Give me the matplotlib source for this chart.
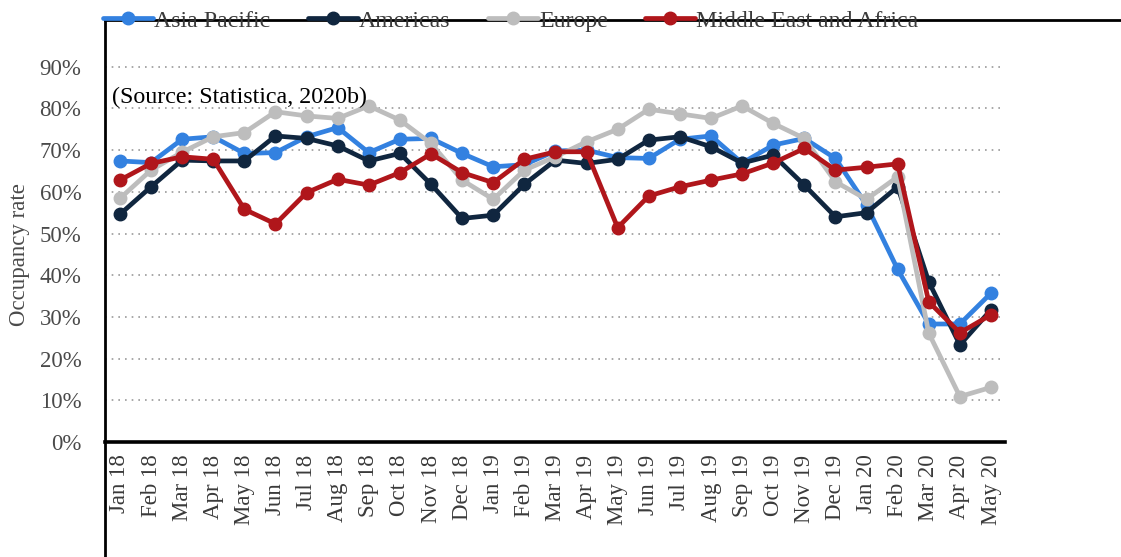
import matplotlib
matplotlib.use("Agg")
import matplotlib.pyplot as plt
from matplotlib.lines import Line2D

plt.rcParams['font.family'] = ['Liberation Serif', 'DejaVu Serif']

# Data (occupancy rate, %)
months = ['Jan 18', 'Feb 18', 'Mar 18', 'Apr 18', 'May 18', 'Jun 18', 'Jul 18',
          'Aug 18', 'Sep 18', 'Oct 18', 'Nov 18', 'Dec 18', 'Jan 19', 'Feb 19',
          'Mar 19', 'Apr 19', 'May 19', 'Jun 19', 'Jul 19', 'Aug 19', 'Sep 19',
          'Oct 19', 'Nov 19', 'Dec 19', 'Jan 20', 'Feb 20', 'Mar 20', 'Apr 20',
          'May 20']

asia_pacific = [67.4, 67.0, 72.6, 73.2, 69.2, 69.4, 73.2, 75.4, 69.4, 72.6,
                72.8, 69.2, 66.0, 66.5, 69.8, 70.0, 68.2, 68.0, 72.6, 73.4,
                66.9, 71.2, 72.8, 68.0, 56.8, 41.4, 28.3, 28.3, 35.7]
americas = [54.6, 61.2, 67.6, 67.4, 67.4, 73.4, 72.8, 71.0, 67.4, 69.2,
            61.8, 53.6, 54.4, 61.8, 67.6, 66.8, 67.8, 72.4, 73.2, 70.8,
            66.9, 68.8, 61.6, 54.0, 55.0, 61.2, 38.4, 23.3, 31.7]
europe = [58.4, 65.2, 69.5, 73.2, 74.2, 79.2, 78.2, 77.6, 80.6, 77.2,
          71.6, 62.8, 58.2, 65.2, 68.4, 72.0, 75.0, 79.8, 78.7, 77.6,
          80.6, 76.4, 72.8, 62.4, 58.2, 63.6, 26.1, 10.9, 13.1]
middle_east_africa = [62.8, 66.8, 68.4, 67.8, 55.8, 52.3, 59.8, 63.0, 61.6, 64.6,
                      69.1, 64.6, 62.2, 67.8, 69.6, 69.6, 51.4, 59.0, 61.2, 62.8,
                      64.3, 66.9, 70.4, 65.2, 65.9, 66.7, 33.6, 26.2, 30.5]

series = [('Asia Pacific', asia_pacific, '#3381e0'),
          ('Americas', americas, '#10263f'),
          ('Europe', europe, '#bdbdbd'),
          ('Middle East and Africa', middle_east_africa, '#b0161b')]

W, H = 1121, 557
fig = plt.figure(figsize=(W / 100, H / 100), dpi=100)
# axes: x 105..1005 px, y 442 (0%) .. 25 (100%)
ax = fig.add_axes([105 / W, 1 - 442 / H, 900 / W, 417 / H])

x = list(range(len(months)))
for name, vals, col in series:
    ax.plot(x, vals, color=col, lw=3.4, marker='o', ms=9, label=name,
            solid_capstyle='round')

ax.set_xlim(-0.48, len(months) - 1 + 0.45)
ax.set_ylim(0, 100)
ax.set_yticks(range(0, 100, 10))
ax.set_yticklabels(['{}%'.format(v) for v in range(0, 100, 10)])
ax.set_xticks(x)
ax.set_xticklabels(months, rotation=90)

ax.tick_params(axis='y', length=0, pad=17, labelsize=16.5, labelcolor='#4a4a4a')
ax.tick_params(axis='x', length=0, pad=9, labelsize=16.5, labelcolor='#3a3a3a')

ax.grid(axis='y', color='#9a9a9a', linestyle=(0, (1, 3)), lw=1.2)
ax.set_axisbelow(True)
for s in ['top', 'right', 'left']:
    ax.spines[s].set_visible(False)
ax.spines['bottom'].set_color('black')
ax.spines['bottom'].set_linewidth(2.6)

# frame lines around the figure area
fig.add_artist(Line2D([105 / W, 105 / W], [0, 1 - 20 / H], color='black', lw=2))
fig.add_artist(Line2D([105 / W, 1], [1 - 20 / H, 1 - 20 / H], color='black', lw=2))

fig.text(20 / W, 1 - 255 / H, 'Occupancy rate', rotation=90, ha='center',
         va='center', fontsize=16.5, color='#4a4a4a')
fig.text(112 / W, 1 - 97 / H, '(Source: Statistica, 2020b)', ha='left',
         va='center', fontsize=17.3, color='black')

fig.legend(loc='center left', bbox_to_anchor=(103 / W, 1 - 21 / H), ncol=4,
           frameon=False, fontsize=17.2, handlelength=2.1, handletextpad=0.05,
           columnspacing=1.55, borderpad=0, borderaxespad=0,
           labelcolor='#3a3a3a')

fig.savefig('out.png', dpi=100)
